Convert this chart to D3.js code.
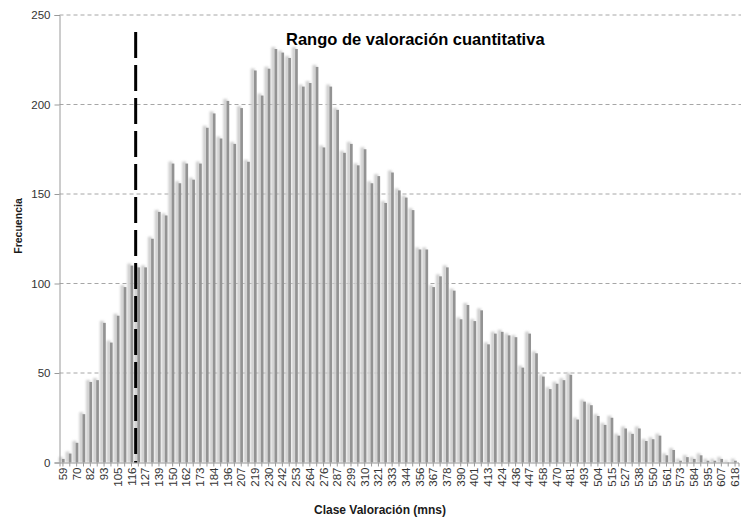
<!DOCTYPE html>
<html>
<head>
<meta charset="utf-8">
<script src="https://cdn.jsdelivr.net/npm/d3@7"></script>
<style>
  html, body { margin: 0; padding: 0; background: #fff; }
  svg { display: block; font-family: "Liberation Sans", Arial, sans-serif; }
</style>
</head>
<body>
<svg id="chart" width="743" height="517"></svg>
<script>
const categories = [59,65,70,76,82,88,93,99,105,110,116,122,127,133,139,145,150,156,162,167,
  173,179,184,190,196,202,207,213,219,224,230,236,242,247,253,259,264,270,276,282,
  287,293,299,304,310,316,321,327,333,339,344,350,356,361,367,373,378,384,390,396,
  401,407,413,418,424,430,436,441,447,453,458,464,470,475,481,487,493,498,504,510,
  515,521,527,533,538,544,550,555,561,567,573,578,584,590,595,601,607,612,618];

const frecuencia = [2,5,11,27,45,46,78,67,82,98,
  110,109,109,125,140,138,167,156,167,158,
  167,187,195,181,202,178,198,168,219,205,
  220,231,229,226,231,210,212,221,176,210,
  197,173,178,166,175,156,160,145,162,152,
  148,141,119,119,98,104,109,96,80,88,
  79,85,66,72,73,71,70,53,72,61,
  48,41,44,46,49,24,34,32,26,21,
  25,15,19,16,19,12,13,15,4,7,
  1,3,2,4,1,1,2,0,1];

const tickLabels = [59,70,82,93,105,116,127,139,150,162,173,184,196,207,219,230,242,253,264,276,
  287,299,310,321,333,344,356,367,378,390,401,413,424,436,447,458,470,481,493,504,
  515,527,538,550,561,573,584,595,607,618];

const yTicks = [0,50,100,150,200,250];
const rangeMarker = 119.5;
const title = "Rango de valoración cuantitativa";
const xTitle = "Clase Valoración (mns)";
const yTitle = "Frecuencia";

(function () {
const svg = d3.select("#chart");
const mLeft = 59.5, mRight = 738.5, gridRight = 741, mTop = 15, mBottom = 462.5;

const x = d3.scaleBand().domain(categories).range([mLeft, mRight]).padding(0);
const y = d3.scaleLinear().domain([0, 250]).range([mBottom, mTop]);
const bw = x.bandwidth();
const cx = d => x(d) + bw / 2;
const xLin = d3.scaleLinear()
  .domain([categories[0], categories[categories.length - 1]])
  .range([cx(categories[0]), cx(categories[categories.length - 1])]);

const defs = svg.append("defs");
defs.append("filter").attr("id", "blur")
  .attr("x", "-50%").attr("y", "-10%").attr("width", "200%").attr("height", "120%")
  .append("feGaussianBlur").attr("stdDeviation", 1.2);

// gridlines
svg.append("g").selectAll("line").data(yTicks.filter(t => t > 0)).join("line")
  .attr("x1", mLeft).attr("x2", gridRight)
  .attr("y1", d => y(d)).attr("y2", d => y(d))
  .attr("stroke", "#a6a6a6").attr("stroke-width", 1)
  .attr("stroke-dasharray", "4,3");

// bar shadows
svg.append("g").attr("filter", "url(#blur)")
  .selectAll("rect").data(categories).join("rect")
  .attr("x", d => cx(d) - 4.2)
  .attr("width", 4.0)
  .attr("y", (d, i) => Math.min(y(frecuencia[i]) - 2, mBottom))
  .attr("height", (d, i) => Math.max(0, mBottom - y(frecuencia[i]) + 2))
  .attr("fill", "#cfcfcf");

// bars
svg.append("g").selectAll("rect").data(categories).join("rect")
  .attr("x", d => cx(d) - 1.0)
  .attr("width", 2.7)
  .attr("y", (d, i) => y(frecuencia[i]))
  .attr("height", (d, i) => mBottom - y(frecuencia[i]))
  .attr("fill", "#939393");

// y axis
const yAxis = d3.axisLeft(y).tickValues(yTicks).tickSize(5).tickPadding(4);
const gy = svg.append("g").attr("transform", `translate(${mLeft},0)`).call(yAxis);
gy.select(".domain").attr("stroke", "#9a9a9a");
gy.selectAll(".tick line").attr("stroke", "#9a9a9a");
gy.selectAll(".tick text").attr("fill", "#333").style("font-size", "11.5px")
  .style("font-family", "'Liberation Sans', Arial, sans-serif");

// x axis
const xAxis = d3.axisBottom(x).tickSize(4).tickPadding(3)
  .tickFormat(d => tickLabels.includes(d) ? String(d) : "");
const gx = svg.append("g").attr("transform", `translate(0,${mBottom})`).call(xAxis);
gx.select(".domain").attr("stroke", "#9a9a9a");
gx.selectAll(".tick line").attr("stroke", "#9a9a9a");
gx.selectAll(".tick text")
  .attr("fill", "#333").style("font-size", "11.5px")
  .style("font-family", "'Liberation Sans', Arial, sans-serif")
  .attr("text-anchor", "end")
  .attr("transform", "rotate(-90)")
  .attr("x", -5).attr("y", 0).attr("dy", "0.35em");

// range marker
svg.append("line")
  .attr("x1", xLin(rangeMarker)).attr("x2", xLin(rangeMarker))
  .attr("y1", 32).attr("y2", mBottom)
  .attr("stroke", "#000").attr("stroke-width", 3)
  .attr("stroke-dasharray", "26,7");

// title
svg.append("text").attr("x", 286).attr("y", 45)
  .style("font-size", "16.5px").style("font-weight", "bold").attr("fill", "#000")
  .text(title);

// axis titles
svg.append("text").attr("x", 380).attr("y", 514)
  .attr("text-anchor", "middle").style("font-size", "12px").style("font-weight", "bold")
  .attr("fill", "#1a1a1a").text(xTitle);

svg.append("text").attr("transform", "translate(22,226) rotate(-90)")
  .attr("text-anchor", "middle").style("font-size", "10.5px").style("font-weight", "bold")
  .attr("fill", "#1a1a1a").text(yTitle);
})();
</script>
</body>
</html>
